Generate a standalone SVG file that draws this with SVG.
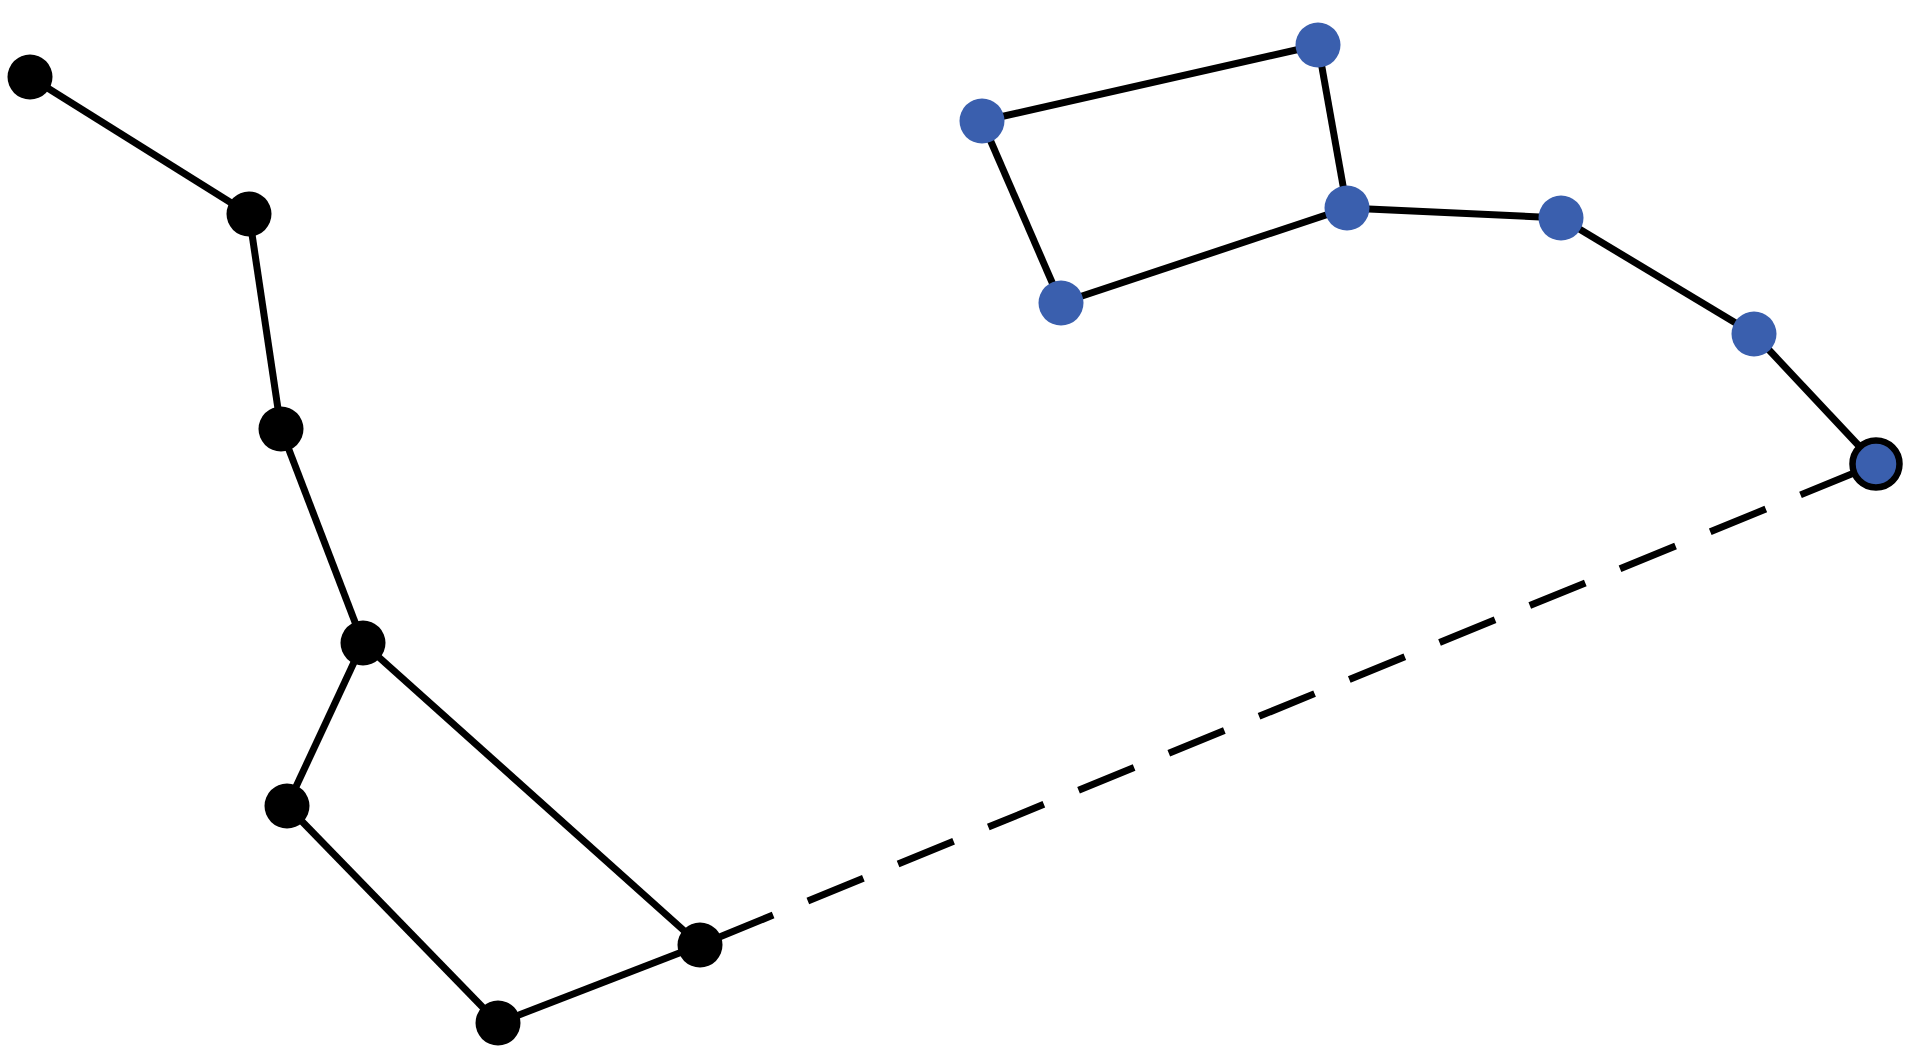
<svg xmlns="http://www.w3.org/2000/svg" width="1920" height="1063" viewBox="0 0 1920 1063">
<style>
.e{stroke:#000;stroke-width:7;fill:none}
.d{stroke-dasharray:79 37.5 60 37.5 60 37.5 60 37.5 60 37.5 60 37.5 60 37.5 60 37.5 60 37.5 60 37.5 60 37.5 60 37.5 200}
.k{fill:#000}
.b{fill:#3a5fae}
.r{fill:#3a5fae;stroke:#000;stroke-width:6.5}
</style>
<rect width="1920" height="1063" fill="#fff"/>
<g id="connectors">
<line class="e" x1="30" y1="77" x2="249" y2="214"/>
<line class="e" x1="249" y1="214" x2="281" y2="429"/>
<line class="e" x1="281" y1="429" x2="363" y2="643"/>
<line class="e" x1="363" y1="643" x2="287" y2="806"/>
<line class="e" x1="363" y1="643" x2="700" y2="945"/>
<line class="e" x1="287" y1="806" x2="498" y2="1023"/>
<line class="e" x1="498" y1="1023" x2="700" y2="945"/>
<line class="e d" x1="700" y1="945" x2="1876" y2="464"/>
<line class="e" x1="982" y1="121" x2="1318" y2="45"/>
<line class="e" x1="1318" y1="45" x2="1347" y2="208"/>
<line class="e" x1="982" y1="121" x2="1061" y2="303"/>
<line class="e" x1="1061" y1="303" x2="1347" y2="208"/>
<line class="e" x1="1347" y1="208" x2="1561" y2="218"/>
<line class="e" x1="1561" y1="218" x2="1754" y2="334"/>
<line class="e" x1="1754" y1="334" x2="1876" y2="464"/>
</g>
<g id="nA"><circle class="k" cx="30" cy="77" r="22.5"/></g>
<g id="nB"><circle class="k" cx="249" cy="214" r="22.5"/></g>
<g id="nC"><circle class="k" cx="281" cy="429" r="22.5"/></g>
<g id="nD"><circle class="k" cx="363" cy="643" r="22.5"/></g>
<g id="nE"><circle class="k" cx="287" cy="806" r="22.5"/></g>
<g id="nF"><circle class="k" cx="498" cy="1023" r="22.5"/></g>
<g id="nG"><circle class="k" cx="700" cy="945" r="22.5"/></g>
<g id="nH"><circle class="b" cx="982" cy="121" r="22.5"/></g>
<g id="nI"><circle class="b" cx="1318" cy="45" r="22.5"/></g>
<g id="nJ"><circle class="b" cx="1347" cy="208" r="22.5"/></g>
<g id="nK"><circle class="b" cx="1061" cy="303" r="22.5"/></g>
<g id="nL"><circle class="b" cx="1561" cy="218" r="22.5"/></g>
<g id="nM"><circle class="b" cx="1754" cy="334" r="22.5"/></g>
<g id="nN"><circle class="r" cx="1876" cy="464" r="23.5"/></g>
</svg>
